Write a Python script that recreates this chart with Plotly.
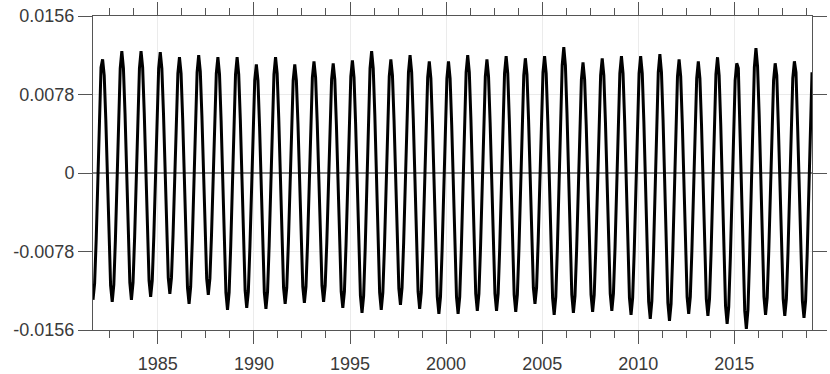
import plotly.graph_objects as go

# monthly series, first value is Aug 1981, last is Jan 2019
start_year = 1981
start_month = 8

sea_level = [
    # 1981 (Aug-Dec)
    -0.0126, -0.0110, -0.0066, -0.0006, 0.0053,
    # 1982
    0.0105, 0.0113, 0.0097, 0.0053, -0.0007, -0.0068, -0.0112, -0.0128, -0.0111, -0.0066, -0.0003, 0.0059,
    # 1983
    0.0104, 0.0121, 0.0104, 0.0059, -0.0002, -0.0064, -0.0109, -0.0126, -0.0109, -0.0064, -0.0002, 0.0059,
    # 1984
    0.0104, 0.0121, 0.0105, 0.0060, -0.0001, -0.0062, -0.0107, -0.0123, -0.0107, -0.0062, -0.0001, 0.0059,
    # 1985
    0.0104, 0.0120, 0.0104, 0.0060, 0.0000, -0.0060, -0.0104, -0.0120, -0.0104, -0.0061, -0.0002, 0.0056,
    # 1986
    0.0099, 0.0115, 0.0099, 0.0054, -0.0007, -0.0069, -0.0114, -0.0130, -0.0113, -0.0068, -0.0006, 0.0055,
    # 1987
    0.0100, 0.0117, 0.0101, 0.0057, -0.0002, -0.0062, -0.0105, -0.0121, -0.0105, -0.0062, -0.0003, 0.0056,
    # 1988
    0.0099, 0.0115, 0.0098, 0.0052, -0.0011, -0.0073, -0.0119, -0.0136, -0.0119, -0.0073, -0.0011, 0.0052,
    # 1989
    0.0098, 0.0115, 0.0098, 0.0053, -0.0010, -0.0072, -0.0117, -0.0134, -0.0118, -0.0073, -0.0013, 0.0048,
    # 1990
    0.0092, 0.0108, 0.0092, 0.0047, -0.0014, -0.0074, -0.0119, -0.0135, -0.0118, -0.0072, -0.0010, 0.0053,
    # 1991
    0.0098, 0.0115, 0.0099, 0.0054, -0.0008, -0.0069, -0.0114, -0.0130, -0.0114, -0.0070, -0.0011, 0.0049,
    # 1992
    0.0092, 0.0108, 0.0092, 0.0049, -0.0011, -0.0070, -0.0113, -0.0129, -0.0113, -0.0069, -0.0009, 0.0051,
    # 1993
    0.0095, 0.0111, 0.0095, 0.0051, -0.0009, -0.0068, -0.0112, -0.0128, -0.0112, -0.0069, -0.0010, 0.0050,
    # 1994
    0.0093, 0.0109, 0.0093, 0.0048, -0.0013, -0.0073, -0.0118, -0.0134, -0.0118, -0.0072, -0.0011, 0.0051,
    # 1995
    0.0096, 0.0112, 0.0095, 0.0049, -0.0014, -0.0076, -0.0122, -0.0139, -0.0122, -0.0074, -0.0009, 0.0056,
    # 1996
    0.0104, 0.0121, 0.0104, 0.0057, -0.0008, -0.0072, -0.0119, -0.0136, -0.0119, -0.0074, -0.0012, 0.0051,
    # 1997
    0.0096, 0.0113, 0.0097, 0.0052, -0.0009, -0.0070, -0.0115, -0.0131, -0.0114, -0.0069, -0.0007, 0.0055,
    # 1998
    0.0100, 0.0117, 0.0100, 0.0054, -0.0009, -0.0072, -0.0118, -0.0135, -0.0119, -0.0073, -0.0012, 0.0050,
    # 1999
    0.0095, 0.0111, 0.0094, 0.0048, -0.0015, -0.0077, -0.0123, -0.0140, -0.0123, -0.0077, -0.0015, 0.0048,
    # 2000
    0.0094, 0.0111, 0.0094, 0.0048, -0.0015, -0.0077, -0.0123, -0.0140, -0.0123, -0.0076, -0.0011, 0.0053,
    # 2001
    0.0100, 0.0117, 0.0100, 0.0053, -0.0010, -0.0074, -0.0120, -0.0137, -0.0120, -0.0074, -0.0012, 0.0051,
    # 2002
    0.0096, 0.0113, 0.0096, 0.0050, -0.0012, -0.0075, -0.0120, -0.0137, -0.0120, -0.0074, -0.0011, 0.0053,
    # 2003
    0.0099, 0.0116, 0.0099, 0.0052, -0.0011, -0.0075, -0.0121, -0.0138, -0.0121, -0.0075, -0.0012, 0.0051,
    # 2004
    0.0097, 0.0114, 0.0098, 0.0053, -0.0008, -0.0069, -0.0114, -0.0130, -0.0114, -0.0068, -0.0007, 0.0055,
    # 2005
    0.0100, 0.0116, 0.0099, 0.0052, -0.0013, -0.0077, -0.0124, -0.0141, -0.0123, -0.0074, -0.0008, 0.0059,
    # 2006
    0.0107, 0.0125, 0.0107, 0.0059, -0.0007, -0.0073, -0.0121, -0.0139, -0.0122, -0.0077, -0.0015, 0.0048,
    # 2007
    0.0093, 0.0110, 0.0093, 0.0048, -0.0014, -0.0076, -0.0121, -0.0138, -0.0121, -0.0075, -0.0012, 0.0051,
    # 2008
    0.0097, 0.0114, 0.0097, 0.0051, -0.0012, -0.0074, -0.0120, -0.0137, -0.0120, -0.0074, -0.0011, 0.0053,
    # 2009
    0.0099, 0.0116, 0.0099, 0.0052, -0.0013, -0.0077, -0.0124, -0.0141, -0.0124, -0.0077, -0.0013, 0.0052,
    # 2010
    0.0099, 0.0116, 0.0099, 0.0051, -0.0015, -0.0080, -0.0128, -0.0145, -0.0127, -0.0079, -0.0014, 0.0052,
    # 2011
    0.0100, 0.0118, 0.0100, 0.0052, -0.0015, -0.0081, -0.0129, -0.0147, -0.0130, -0.0082, -0.0017, 0.0048,
    # 2012
    0.0096, 0.0113, 0.0096, 0.0050, -0.0014, -0.0077, -0.0123, -0.0140, -0.0123, -0.0077, -0.0015, 0.0048,
    # 2013
    0.0094, 0.0111, 0.0094, 0.0048, -0.0016, -0.0079, -0.0125, -0.0142, -0.0125, -0.0078, -0.0014, 0.0051,
    # 2014
    0.0098, 0.0115, 0.0097, 0.0049, -0.0018, -0.0084, -0.0132, -0.0150, -0.0133, -0.0085, -0.0021, 0.0044,
    # 2015
    0.0092, 0.0109, 0.0104, 0.0043, -0.0023, -0.0089, -0.0137, -0.0155, -0.0136, -0.0085, -0.0015, 0.0054,
    # 2016
    0.0105, 0.0124, 0.0106, 0.0058, -0.0009, -0.0075, -0.0123, -0.0141, -0.0124, -0.0078, -0.0016, 0.0047,
    # 2017
    0.0092, 0.0109, 0.0097, 0.0046, -0.0017, -0.0079, -0.0125, -0.0142, -0.0125, -0.0079, -0.0015, 0.0048,
    # 2018
    0.0094, 0.0111, 0.0100, 0.0047, -0.0017, -0.0080, -0.0127, -0.0144, -0.0127, -0.0080, -0.0015, 0.0049,
    # 2019 (Jan)
    0.0100,
]

x_tick_years = [1985, 1990, 1995, 2000, 2005, 2010, 2015]
y_tick_values = [-0.0156, -0.0078, 0, 0.0078, 0.0156]
y_tick_labels = ["-0.0156", "-0.0078", "0", "0.0078", "0.0156"]

# decimal year at mid-month
times = [start_year + (start_month - 0.5 + i) / 12 for i in range(len(sea_level))]

fig = go.Figure()

fig.add_trace(go.Scatter(
    x=times,
    y=sea_level,
    mode='lines',
    line=dict(color='black', width=3),
    showlegend=False,
    hoverinfo='skip'
))

axis_font = dict(family='Liberation Sans, Arial, sans-serif', size=18, color='#3a3a3a')

fig.update_xaxes(
    range=[times[0], times[-1]],
    tickmode='array',
    tickvals=x_tick_years,
    ticktext=[str(y) for y in x_tick_years],
    ticks='outside',
    ticklen=13,
    tickwidth=1,
    tickcolor='#555555',
    ticklabelstandoff=4,
    showline=True,
    linecolor='#555555',
    linewidth=1,
    mirror='ticks',
    showgrid=True,
    gridcolor='#ebebeb',
    gridwidth=1,
    zeroline=False,
    automargin=False,
    tickfont=axis_font,
    minor=dict(tick0=1985, dtick=1.25, ticks='outside', ticklen=7,
               tickcolor='#555555', tickwidth=1, showgrid=False),
)

fig.update_yaxes(
    range=[-0.0156, 0.0156],
    tickmode='array',
    tickvals=y_tick_values,
    ticktext=y_tick_labels,
    ticks='outside',
    ticklen=14,
    tickwidth=1,
    tickcolor='#555555',
    showline=True,
    linecolor='#555555',
    linewidth=1,
    mirror='ticks',
    showgrid=True,
    gridcolor='#ebebeb',
    gridwidth=1,
    zeroline=True,
    zerolinecolor='#858585',
    zerolinewidth=1.5,
    automargin=False,
    tickfont=axis_font,
)

fig.update_layout(
    width=830,
    height=374,
    margin=dict(l=93, r=18, t=16, b=44),
    plot_bgcolor='white',
    paper_bgcolor='white',
    showlegend=False,
)

# drop the browser's default page margin so the figure sits at (0, 0)
fig.write_html("out.html", config={'displayModeBar': False},
               post_script="document.body.style.margin='0';")
